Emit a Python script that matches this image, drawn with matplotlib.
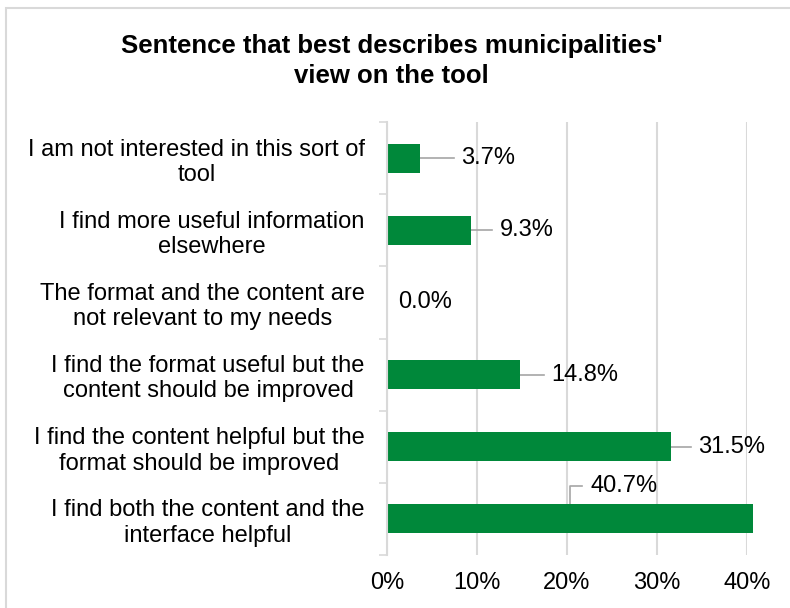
import matplotlib.pyplot as plt
from matplotlib.patches import Rectangle

plt.rcParams['font.family'] = ['Liberation Sans', 'DejaVu Sans']

# survey answers, top to bottom
answers = [
    "I am not interested in this sort of\ntool",
    "I find more useful information\nelsewhere",
    "The format and the content are\nnot relevant to my needs",
    "I find the format useful but the\ncontent should be improved",
    "I find the content helpful but the\nformat should be improved",
    "I find both the content and the\ninterface helpful",
]
shares = [0.037, 0.093, 0.000, 0.148, 0.315, 0.407]
ticks = [0.0, 0.1, 0.2, 0.3, 0.4]
tick_labels = ["0%", "10%", "20%", "30%", "40%"]

# leader line length per label (axis units)
leader_len = [0.037, 0.024, 0.0, 0.026, 0.023]

GREEN = "#00883a"
GRID = "#d9d9d9"
LEADER = "#a6a6a6"
FS = 17

fig = plt.figure(figsize=(7.9, 6.08), dpi=100)
ax = fig.add_axes([0.4899, 0.0872, 0.4557, 0.7121])

# chart frame
fig.patches.append(Rectangle((6 / 790, -0.1), 1.1, 1 - 8 / 608 + 0.1,
                             transform=fig.transFigure, fill=False,
                             edgecolor=GRID, linewidth=1.5))

ypos = list(range(len(answers)))
ax.barh(ypos, shares, height=0.4, color=GREEN, zorder=3, clip_on=False)

ax.set_xlim(0, 0.4)
ax.set_ylim(len(answers) - 0.5, -0.5)
ax.set_xticks(ticks)
ax.set_xticklabels(tick_labels, fontsize=FS)
ax.set_yticks(ypos)
ax.set_yticklabels(answers, fontsize=FS, ha="right", multialignment="center")
ax.tick_params(axis="y", length=0, pad=16)
ax.tick_params(axis="x", length=0, pad=12)

# small category separators on the value axis
ax.set_yticks([i - 0.5 for i in range(len(answers) + 1)], minor=True)
ax.tick_params(axis="y", which="minor", length=6, color=GRID, width=1.2)

ax.grid(axis="x", color=GRID, linewidth=1.5, zorder=0)
for side in ["top", "right", "bottom"]:
    ax.spines[side].set_visible(False)
ax.spines["left"].set_color(GRID)
ax.spines["left"].set_linewidth(1.5)
ax.spines["left"].set_zorder(4)

# data labels with leader lines
for y, v, ll in zip(ypos[:-1], shares[:-1], leader_len):
    label = f"{v * 100:.1f}%"
    if v > 0:
        ax.plot([v, v + ll], [y, y], color=LEADER, linewidth=1.2,
                zorder=2, clip_on=False)
        ax.text(v + ll + 0.008, y, label, fontsize=FS, va="center", ha="left")
    else:
        ax.text(v + 0.012, y, label, fontsize=FS, va="center", ha="left")

# last label sits above its bar with an elbow leader
y, v = ypos[-1], shares[-1]
ax.plot([0.203, 0.203, 0.217], [y - 0.2, y - 0.46, y - 0.46],
        color=LEADER, linewidth=1.2, zorder=2)
ax.text(0.226, y - 0.45, f"{v * 100:.1f}%", fontsize=FS,
        va="center", ha="left")

fig.text(0.496, 0.900, "Sentence that best describes municipalities'\nview on the tool",
         ha="center", va="center", fontsize=18.5, fontweight="bold",
         linespacing=1.3)

fig.savefig("out.png", dpi=100)
